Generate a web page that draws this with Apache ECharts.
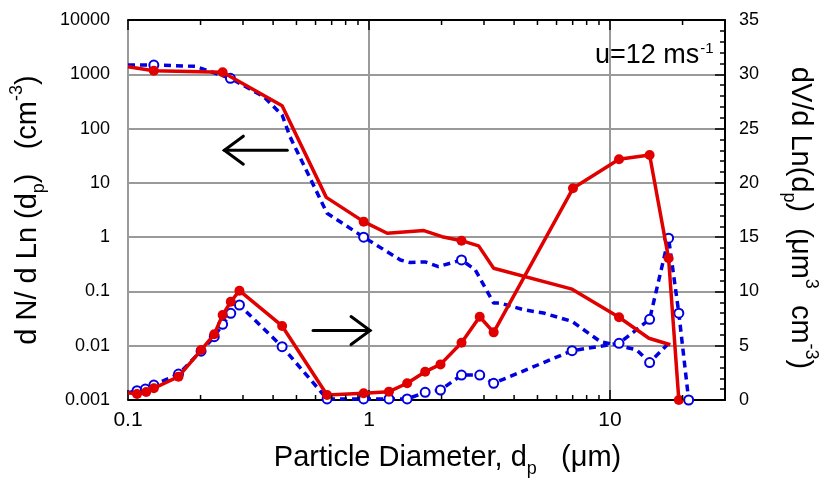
<!DOCTYPE html>
<html>
<head>
<meta charset="utf-8">
<script src="https://cdn.jsdelivr.net/npm/echarts@6/dist/echarts.min.js"></script>
<style>
  html, body { margin: 0; padding: 0; background: #fff; }
  #chart { width: 821px; height: 479px; }
</style>
</head>
<body>
<div id="chart"></div>
<script>
const FONT = 'Liberation Sans, Arial, Helvetica, sans-serif'
const RED = '#e00000'
const BLUE = '#0000e0'
const GRIDGRAY = '#9a9a9a'

// number distribution dN/dLn(dp)  (left, log axis)
const redNumX = [0.1, 0.128, 0.247, 0.436, 0.665, 0.95, 1.19, 1.69, 2.01, 2.42, 2.85, 3.29, 6.96, 10.9, 14.5, 17.8]
const redNumY = [1380, 1165, 1090, 263, 5.4, 1.93, 1.18, 1.32, 1.02, 0.86, 0.69, 0.267, 0.11, 0.0335, 0.0137, 0.0104]
const redNumMark = [0, 1, 1, 0, 0, 1, 0, 0, 0, 1, 0, 0, 0, 1, 0, 0]

const blueNumX = [0.1, 0.128, 0.19, 0.266, 0.366, 0.436, 0.47, 0.67, 0.95, 1.35, 1.48, 1.71, 1.94, 2.42, 2.76, 3.29, 3.5, 4.38, 5.3, 6.96, 9.1, 12.9, 14.6, 17.5]
const blueNumY = [1480, 1480, 1400, 843, 387, 178, 71, 2.75, 1.0, 0.38, 0.34, 0.35, 0.286, 0.38, 0.25, 0.061, 0.061, 0.046, 0.04, 0.028, 0.012, 0.0084, 0.0049, 0.011]
const blueNumMark = [0, 1, 0, 1, 0, 0, 0, 0, 1, 0, 0, 0, 0, 1, 0, 0, 0, 0, 0, 0, 0, 0, 1, 0]

// volume distribution dV/dLn(dp)  (right, linear axis)
const redVolX = [0.1, 0.109, 0.119, 0.128, 0.162, 0.201, 0.228, 0.247, 0.267, 0.29, 0.436, 0.67, 0.95, 1.21, 1.44, 1.71, 1.98, 2.42, 2.88, 3.29, 7.02, 10.9, 14.6, 17.5, 19.3]
const redVolY = [0.67, 0.55, 0.74, 1.08, 2.15, 4.6, 6.05, 7.83, 9.05, 10.07, 6.82, 0.46, 0.62, 0.77, 1.54, 2.61, 3.28, 5.28, 7.67, 6.23, 19.5, 22.17, 22.57, 13.05, 0]

const blueVolX = [0.1, 0.109, 0.118, 0.128, 0.162, 0.201, 0.228, 0.247, 0.267, 0.29, 0.436, 0.67, 0.95, 1.21, 1.44, 1.71, 1.98, 2.42, 2.88, 3.29, 6.96, 10.9, 14.6, 17.5, 19.3, 21.2]
const blueVolY = [0.67, 0.86, 1.01, 1.38, 2.39, 4.5, 5.83, 6.97, 7.98, 8.75, 4.91, 0.1, 0.1, 0.1, 0.1, 0.71, 0.92, 2.3, 2.3, 1.54, 4.54, 5.22, 7.43, 14.9, 8.0, 0]

const leftTicks = ['0.001', '0.01', '0.1', '1', '10', '100', '1000', '10000']
const minorX = [0.2, 0.3, 0.4, 0.5, 0.6, 0.7, 0.8, 0.9, 2, 3, 4, 5, 6, 7, 8, 9, 20]

function pts(xs, ys, marks) {
    return xs.map((x, i) => {
        const item = {value: [x, ys[i]]}
        if (marks && !marks[i]) item.symbol = 'none'
        return item
    })
}
const volMarks = xs => xs.map((x, i) => i === 0 ? 0 : 1)

const redStyle = {
    type: 'line', symbol: 'circle', symbolSize: 10, showAllSymbol: true,
    lineStyle: {color: RED, width: 3.5},
    itemStyle: {color: RED, borderWidth: 0},
    z: 4
}
const blueStyle = {
    type: 'line', symbol: 'circle', symbolSize: 9, showAllSymbol: true,
    lineStyle: {color: BLUE, width: 3.5, type: [7, 5]},
    itemStyle: {color: '#fff', borderColor: BLUE, borderWidth: 2},
    z: 3
}
const txt = (size, extra) => Object.assign({fontSize: size, fontFamily: FONT, color: '#000', fontWeight: 'normal'}, extra)
const nameRich = {
    a: txt(29, {lineHeight: 32, verticalAlign: 'middle'}),
    sub: txt(18, {verticalAlign: 'bottom', padding: [22, 0, 0, 0]}),
    sup: txt(18, {verticalAlign: 'top', padding: [0, 0, 17, 0]})
}

const chart = echarts.init(document.getElementById('chart'))
chart.setOption({
    animation: false,
    backgroundColor: '#fff',
    textStyle: {fontFamily: FONT},
    title: {
        text: '{a|u=12 ms}{sup|-1}',
        left: 590, top: 36,
        textStyle: {
            fontWeight: 'normal',
            rich: {
                a: txt(27, {lineHeight: 30, verticalAlign: 'middle'}),
                sup: txt(15, {verticalAlign: 'top', padding: [0, 0, 14, 1]})
            }
        }
    },
    grid: {left: 128, right: 96, top: 20, bottom: 79, outerBoundsMode: 'none', containLabel: false},
    xAxis: [{
        type: 'log', logBase: 10, min: 0.1, max: 30, position: 'bottom',
        name: '{a|Particle Diameter, d}{sub|p}{a|   (\u03bcm)}',
        nameLocation: 'middle', nameGap: 38,
        nameTextStyle: {rich: nameRich, padding: [0, 0, 0, 42]},
        axisLine: {show: true, lineStyle: {color: '#000', width: 2}},
        axisTick: {show: true, inside: true, length: 10, lineStyle: {color: '#000', width: 1.5}},
        axisLabel: {
            fontSize: 21, color: '#000', margin: 10, fontFamily: FONT,
            showMaxLabel: false,
            formatter: v => (v > 20 ? '' : String(+v.toPrecision(3)))
        },
        splitLine: {show: true, lineStyle: {color: GRIDGRAY, width: 2}}
    }, {
        type: 'log', logBase: 10, min: 0.1, max: 30, position: 'top',
        axisLine: {show: true, lineStyle: {color: '#000', width: 2}},
        axisTick: {show: true, inside: true, length: 10, lineStyle: {color: '#000', width: 1.5}},
        axisLabel: {show: false},
        splitLine: {show: false}
    }],
    yAxis: [{
        type: 'log', logBase: 10, min: 0.001, max: 10000, splitNumber: 7, position: 'left',
        name: '{a|d N/ d Ln (d}{sub|p}{a|)   (cm}{sup|-3}{a|)}',
        nameLocation: 'middle', nameRotate: 90, nameGap: 80,
        nameTextStyle: {rich: nameRich},
        axisLine: {show: false},
        axisTick: {show: false},
        axisLabel: {
            fontSize: 18, color: '#000', margin: 18, fontFamily: FONT,
            formatter: v => leftTicks[Math.round(Math.log10(v)) + 3] || ''
        },
        splitLine: {show: true, lineStyle: {color: GRIDGRAY, width: 2}}
    }, {
        type: 'value', min: 0, max: 35, interval: 5, position: 'right',
        name: '{a|dV/d Ln(d}{sub|p}{a|)  (\u03bcm}{sup|3}{a|  cm}{sup|-3}{a|)}',
        nameLocation: 'middle', nameRotate: -90, nameGap: 55,
        nameTextStyle: {rich: nameRich, padding: [0, 0, 0, 16]},
        axisLine: {show: true, lineStyle: {color: '#000', width: 2}},
        axisTick: {show: true, inside: true, length: 10, lineStyle: {color: '#000', width: 1.5}},
        minorTick: {show: true, splitNumber: 5, length: 5, lineStyle: {color: '#000', width: 1.5}},
        axisLabel: {fontSize: 18, color: '#000', margin: 14, fontFamily: FONT},
        splitLine: {show: false}
    }],
    series: [
        Object.assign({}, blueStyle, {name: 'N blue', yAxisIndex: 0, data: pts(blueNumX, blueNumY, blueNumMark)}),
        Object.assign({}, blueStyle, {name: 'V blue', yAxisIndex: 1, data: pts(blueVolX, blueVolY, volMarks(blueVolX))}),
        Object.assign({}, redStyle, {name: 'N red', yAxisIndex: 0, data: pts(redNumX, redNumY, redNumMark)}),
        Object.assign({}, redStyle, {name: 'V red', yAxisIndex: 1, data: pts(redVolX, redVolY, volMarks(redVolX))})
    ]
})

// log minor ticks on the top and bottom axes, and the two arrows
const yBottom = chart.convertToPixel({yAxisIndex: 1}, 0)
const yTop = chart.convertToPixel({yAxisIndex: 1}, 35)
const graphics = []
minorX.forEach(v => {
    const px = chart.convertToPixel({xAxisIndex: 0}, v)
    graphics.push({type: 'line', z: 10, shape: {x1: px, y1: yBottom, x2: px, y2: yBottom - 5}, style: {stroke: '#000', lineWidth: 1.5}})
    graphics.push({type: 'line', z: 10, shape: {x1: px, y1: yTop, x2: px, y2: yTop + 5}, style: {stroke: '#000', lineWidth: 1.5}})
})
function arrow(tail, tip) {
    const a = chart.convertToPixel({xAxisIndex: 0, yAxisIndex: 0}, tail)
    const b = chart.convertToPixel({xAxisIndex: 0, yAxisIndex: 0}, tip)
    const dir = Math.sign(b[0] - a[0])
    const st = {stroke: '#000', lineWidth: 3, fill: null, lineCap: 'round'}
    graphics.push({type: 'line', z: 10, shape: {x1: a[0], y1: a[1], x2: b[0], y2: b[1]}, style: st})
    graphics.push({type: 'polyline', z: 10, shape: {points: [[b[0] - dir * 19, b[1] - 14], [b[0], b[1]], [b[0] - dir * 19, b[1] + 14]]}, style: st})
}
arrow([0.458, 40], [0.251, 40])
arrow([0.586, 0.019], [1.01, 0.019])
chart.setOption({graphic: graphics})
</script>
</body>
</html>
